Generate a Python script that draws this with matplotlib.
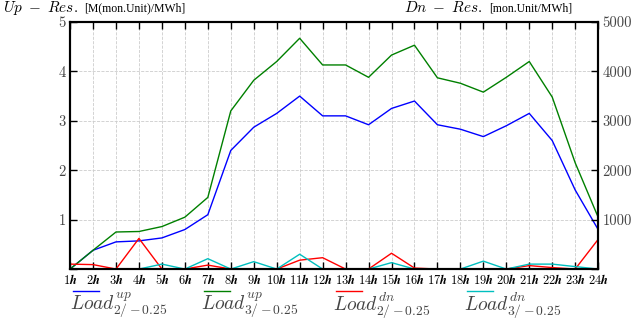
import numpy as np
import matplotlib
matplotlib.use('Agg')
import matplotlib.pyplot as plt
from matplotlib.legend_handler import HandlerLine2D

plt.rcParams['font.family'] = 'serif'
plt.rcParams['font.serif'] = ['cmr10', 'DejaVu Serif']
plt.rcParams['mathtext.fontset'] = 'cm'
plt.rcParams['axes.unicode_minus'] = False

# datos por hora
horas = [str(i) for i in range(1, 25)]
up_2 = [0, 0.38, 0.55, 0.57, 0.63, 0.80, 1.10, 2.40, 2.87, 3.15, 3.50, 3.10,
        3.10, 2.92, 3.25, 3.40, 2.92, 2.83, 2.68, 2.90, 3.15, 2.60, 1.60, 0.80]
up_3 = [0, 0.38, 0.75, 0.76, 0.86, 1.05, 1.45, 3.20, 3.82, 4.20, 4.67, 4.13,
        4.13, 3.88, 4.33, 4.53, 3.87, 3.76, 3.58, 3.88, 4.20, 3.48, 2.15, 1.05]
dn_2 = [100, 90, 0, 620, 0, 0, 80, 0, 0, 0, 180, 230,
        0, 0, 320, 20, 0, 0, 0, 0, 70, 30, 0, 600]
dn_3 = [0, 0, 0, 0, 100, 0, 210, 0, 150, 0, 300, 0,
        0, 0, 130, 0, 0, 0, 160, 0, 100, 100, 50, 0]
etiquetas = [r'$Load^{up}_{2/-0.25}$', r'$Load^{up}_{3/-0.25}$',
             r'$Load^{dn}_{2/-0.25}$', r'$Load^{dn}_{3/-0.25}$']

x = np.arange(len(horas))


# linea de la leyenda por encima del texto
class LineaArriba(HandlerLine2D):
    def create_artists(self, legend, orig_handle, xdescent, ydescent,
                       width, height, fontsize, trans):
        arts = super().create_artists(legend, orig_handle, xdescent, ydescent,
                                      width, height, fontsize, trans)
        for a in arts:
            a.set_ydata(np.asarray(a.get_ydata()) + 0.65 * fontsize)
        return arts


fig = plt.figure(figsize=(6.37, 3.23), dpi=100)
ax = fig.add_axes([0.110, 0.167, 0.829, 0.765])
ax2 = ax.twinx()

l1, = ax.plot(x, up_2, color='b', lw=1)
l2, = ax.plot(x, up_3, color='g', lw=1)
l3, = ax2.plot(x, dn_2, color='r', lw=1)
l4, = ax2.plot(x, dn_3, color='c', lw=1)

ax.set_xlim(0, 23)
ax.set_ylim(0, 5)
ax2.set_ylim(0, 5000)
ax.set_xticks(x)
ax.set_xticklabels([r'$\mathbf{%s}\boldsymbol{h}$' % h for h in horas], fontsize=9)
ax.set_yticks([0, 1, 2, 3, 4, 5])
ax.set_yticklabels(['', '1', '2', '3', '4', '5'], fontsize=10.5, color='#444444')
ax2.set_yticks([0, 1000, 2000, 3000, 4000, 5000])
ax2.set_yticklabels(['', '1000', '2000', '3000', '4000', '5000'], fontsize=10.5, color='#444444')

ax.grid(True, linestyle='--', color='#cccccc', linewidth=0.6)
ax.tick_params(axis='x', direction='in', top=True, length=5, width=1, pad=3)
ax.tick_params(axis='y', direction='in', length=5, width=1, pad=3)
ax2.tick_params(axis='y', direction='in', length=5, width=1, pad=3)
for a in (ax, ax2):
    for s in a.spines.values():
        s.set_linewidth(1.5)

fig.text(0.004, 0.964, r'$Up\ -\ Res.$', fontsize=11, va='baseline', ha='left')
fig.text(0.132, 0.964, '[M(mon.Unit)/MWh]', fontsize=8.5, va='baseline', ha='left',
         family='Liberation Serif')
fig.text(0.634, 0.964, r'$Dn\ -\ Res.$', fontsize=11, va='baseline', ha='left')
fig.text(0.898, 0.964, '[mon.Unit/MWh]', fontsize=8.5, va='baseline', ha='right',
         family='Liberation Serif')

leg = fig.legend([l1, l2, l3, l4], etiquetas,
                 loc='lower left', bbox_to_anchor=(0.114, 0.008), ncol=4, frameon=False,
                 fontsize=14, handlelength=1.35, handletextpad=-1.5, columnspacing=1.9,
                 borderpad=0, borderaxespad=0,
                 handler_map={l: LineaArriba() for l in (l1, l2, l3, l4)})
for t in leg.get_texts():
    t.set_color('#444444')

plt.savefig('out.png', dpi=100)
